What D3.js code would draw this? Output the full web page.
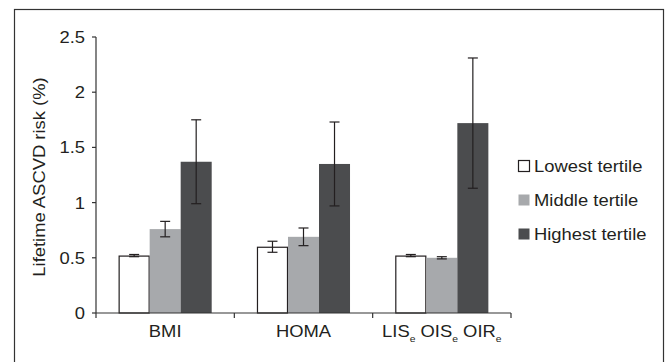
<!DOCTYPE html>
<html>
<head>
<meta charset="UTF-8">
<script src="https://d3js.org/d3.v7.min.js"></script>
<style>
  body { margin: 0; background: #fff; }
  text { font-family: "Liberation Sans", Arial, sans-serif; fill: #231f20; }
</style>
</head>
<body>
<svg width="666" height="362"></svg>
<script>
// data
const categories = ["BMI", "HOMA", "LISe OISe OIRe"];
const series = ["Lowest tertile", "Middle tertile", "Highest tertile"];
const lowest = [0.52, 0.60, 0.52];
const middle = [0.76, 0.69, 0.50];
const highest = [1.37, 1.35, 1.72];
const lowestErr = [0.01, 0.05, 0.01];
const middleErr = [0.07, 0.08, 0.01];
const highestErr = [0.38, 0.38, 0.59];
const yTicks = [0, 0.5, 1, 1.5, 2, 2.5];

const colors = ["#ffffff", "#a7a9ac", "#4b4c4e"];
const stretch = 1.15; // the type in the picture is a bit wide

const svg = d3.select("svg");

// outer frame
svg.append("rect")
  .attr("x", 14.5).attr("y", 9.5)
  .attr("width", 649).attr("height", 360)
  .attr("fill", "none").attr("stroke", "#333").attr("stroke-width", 1.2);

const x = d3.scaleBand().domain(categories).range([96, 511]);
const xs = d3.scaleBand().domain(series).range([0, x.bandwidth()]).paddingOuter(0.73);
const y = d3.scaleLinear().domain([0, 2.5]).range([313, 37]);

const rows = categories.map((c, i) => ({
  cat: c,
  vals: [
    { s: series[0], v: lowest[i], e: lowestErr[i] },
    { s: series[1], v: middle[i], e: middleErr[i] },
    { s: series[2], v: highest[i], e: highestErr[i] }
  ]
}));

// bars
const groups = svg.selectAll(".grp").data(rows).enter().append("g")
  .attr("transform", d => `translate(${x(d.cat)},0)`);

groups.selectAll("rect").data(d => d.vals).enter().append("rect")
  .attr("x", d => xs(d.s) + (d.s === series[0] ? 0.5 : 0))
  .attr("y", d => y(d.v) + (d.s === series[0] ? 0.5 : 0))
  .attr("width", d => xs.bandwidth() - (d.s === series[0] ? 1 : 0))
  .attr("height", d => y(0) - y(d.v) - (d.s === series[0] ? 0.5 : 0))
  .attr("fill", (d, i) => colors[i])
  .attr("stroke", (d, i) => i === 0 ? "#231f20" : "none")
  .attr("stroke-width", 1.2);

// error bars
const eb = groups.selectAll(".err").data(d => d.vals).enter().append("g")
  .attr("transform", d => `translate(${xs(d.s) + xs.bandwidth() / 2},0)`)
  .attr("stroke", "#231f20").attr("stroke-width", 1.2);
eb.append("line").attr("x1", 0).attr("x2", 0)
  .attr("y1", d => y(d.v + d.e)).attr("y2", d => y(d.v - d.e));
eb.append("line").attr("x1", -5).attr("x2", 5)
  .attr("y1", d => y(d.v + d.e)).attr("y2", d => y(d.v + d.e));
eb.append("line").attr("x1", -5).attr("x2", 5)
  .attr("y1", d => y(d.v - d.e)).attr("y2", d => y(d.v - d.e));

// y axis
const yAxis = svg.append("g").attr("transform", "translate(96,0)");
yAxis.append("line").attr("x1", 0).attr("x2", 0).attr("y1", y(2.5)).attr("y2", y(0))
  .attr("stroke", "#333").attr("stroke-width", 1.2);
yTicks.forEach(t => {
  yAxis.append("line").attr("x1", -4).attr("x2", 0).attr("y1", y(t)).attr("y2", y(t))
    .attr("stroke", "#333").attr("stroke-width", 1.2);
  yAxis.append("g").attr("transform", `translate(-11,${y(t) + 6}) scale(${stretch},1)`)
    .append("text").attr("text-anchor", "end").attr("font-size", 16)
    .text(d3.format("~g")(t));
});

// x axis
const xAxis = svg.append("g");
xAxis.append("line").attr("x1", 96).attr("x2", 511).attr("y1", y(0)).attr("y2", y(0))
  .attr("stroke", "#333").attr("stroke-width", 1.2);
const edges = categories.map(c => x(c)).concat([x(categories[2]) + x.bandwidth()]);
edges.forEach(e => {
  xAxis.append("line").attr("x1", e).attr("x2", e).attr("y1", y(0)).attr("y2", y(0) + 5)
    .attr("stroke", "#333").attr("stroke-width", 1.2);
});
categories.forEach((c, i) => {
  const t = xAxis.append("g")
    .attr("transform", `translate(${x(c) + x.bandwidth() / 2},337) scale(${stretch},1)`)
    .append("text").attr("text-anchor", "middle").attr("font-size", 16);
  if (i < 2) {
    t.text(c);
  } else {
    ["LIS", "OIS", "OIR"].forEach((p, j) => {
      t.append("tspan").attr("dy", j === 0 ? 0 : -5).text((j === 0 ? "" : " ") + p);
      t.append("tspan").attr("font-size", 9).attr("dy", 5).text("e");
    });
  }
});

// y title
svg.append("g").attr("transform", `translate(45,${(y(0) + y(2.5)) / 2 + 2}) rotate(-90) scale(${stretch},1)`)
  .append("text").attr("text-anchor", "middle").attr("font-size", 16)
  .text("Lifetime ASCVD risk (%)");

// legend
const legY = [166, 200, 234];
series.forEach((s, i) => {
  const g = svg.append("g").attr("transform", `translate(518,${legY[i]})`);
  g.append("rect").attr("x", 0.5).attr("y", -5.5).attr("width", 11).attr("height", 11)
    .attr("fill", colors[i]).attr("stroke", i === 0 ? "#231f20" : "none").attr("stroke-width", 1.2);
  g.append("g").attr("transform", `translate(16,6) scale(${stretch},1)`)
    .append("text").attr("font-size", 16).text(s);
});
</script>
</body>
</html>
